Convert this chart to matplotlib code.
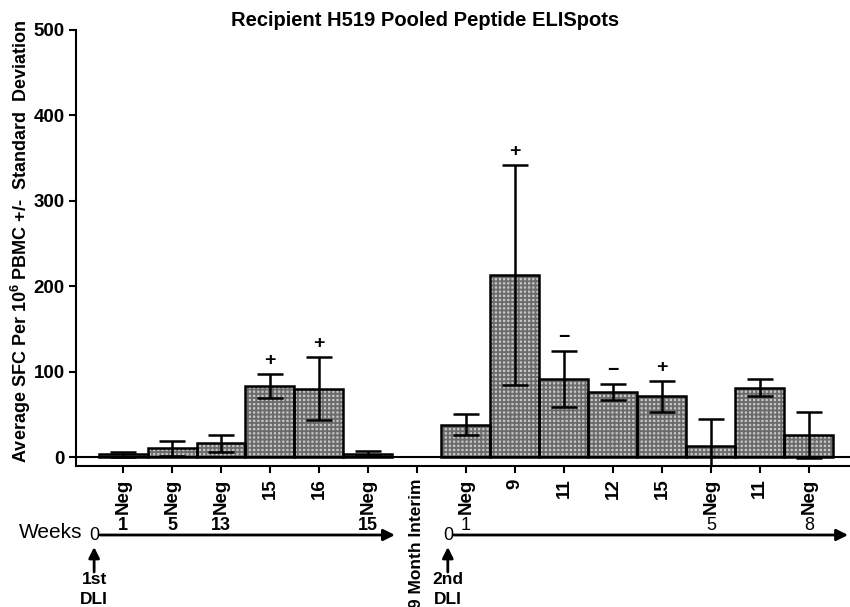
import matplotlib.pyplot as plt
import matplotlib.transforms as mtransforms
import numpy as np

plt.rcParams['font.family'] = ['Liberation Sans', 'DejaVu Sans']
plt.rcParams['mathtext.fontset'] = 'custom'
plt.rcParams['mathtext.rm'] = 'Liberation Sans:bold'
plt.rcParams['mathtext.bf'] = 'Liberation Sans:bold'
plt.rcParams['hatch.linewidth'] = 1.3

# pooled peptide ELISpot results in time order (the interim slot has no sample)
peptides = ["Neg", "Neg", "Neg", "15", "16", "Neg", "9 Month Interim",
            "Neg", "9", "11", "12", "15", "Neg", "11", "Neg"]
mean_sfc = [3, 10, 16, 83, 80, 4, np.nan, 38, 213, 91, 76, 71, 13, 81, 26]
sd_sfc = [3, 9, 10, 14, 37, 3, np.nan, 12, 129, 33, 9, 18, 31, 10, 27]
weeks = ["1", "5", "13", "", "", "15", "", "1", "", "", "", "", "5", "", "8"]
response = ["", "", "", "+", "+", "", "", "", "+", "\u2212", "\u2212", "+", "", "", ""]
first_dli_count = 6  # samples taken after the 1st DLI

x = np.arange(len(peptides))
vals = np.array(mean_sfc, dtype=float)
errs = np.array(sd_sfc, dtype=float)
has = ~np.isnan(vals)

fig = plt.figure(figsize=(8.5, 6.07), dpi=100)
ax = fig.add_axes([76 / 850, (607 - 466) / 607, 774 / 850, 436 / 607])

# checkered fill first, then the black outlines on top
ax.bar(x[has], vals[has], width=1.0, color='#c4c4c4', edgecolor='#6a6a6a',
       hatch='++++', linewidth=0)
ax.bar(x[has], vals[has], width=1.0, fill=False, edgecolor='black', linewidth=1.8)
ax.errorbar(x[has], vals[has], yerr=errs[has], fmt='none', ecolor='black',
            elinewidth=1.8, capsize=9.4, capthick=1.8)
ax.axhline(0, color='black', lw=1.5)

for i, sign in enumerate(response):
    if sign:
        ax.annotate(sign, (x[i], vals[i] + errs[i]), xytext=(0, 10),
                    textcoords='offset points', ha='center', va='center',
                    fontsize=14, fontweight='bold')

ax.set_xlim(-0.96, 14.84)
ax.set_ylim(-10.5, 500)
ax.set_yticks(np.arange(0, 501, 100))
ax.set_xticks(x, peptides, rotation=90)
for lbl in ax.get_xticklabels() + ax.get_yticklabels():
    lbl.set_fontweight('bold')
ax.tick_params(direction='out', length=5, width=1.5, labelsize=13.5)
ax.tick_params(axis='x', pad=4)
ax.tick_params(axis='y', pad=3)
# the interim label is long, keep it a touch smaller
ax.get_xticklabels()[peptides.index("9 Month Interim")].set_fontsize(12.5)
for side in ['top', 'right']:
    ax.spines[side].set_visible(False)
for side in ['left', 'bottom']:
    ax.spines[side].set_linewidth(1.5)

ax.set_ylabel(r'Average SFC Per 10$^{6}$ PBMC +/-  Standard  Deviation',
              fontsize=13, fontweight='bold')
ax.yaxis.set_label_coords(-0.055, 0.515)

fig.text(0.5, 1 - 20 / 607, 'Recipient H519 Pooled Peptide ELISpots',
         ha='center', va='center', fontsize=14.5, fontweight='bold')

# timeline below the axis: x in data units, y in figure fraction
trans = mtransforms.blended_transform_factory(ax.transData, fig.transFigure)
for i, wk in enumerate(weeks):
    if wk:
        ax.text(x[i], 1 - 525 / 607, wk, transform=trans, ha='center', va='center',
                fontsize=13, fontweight='bold' if i < first_dli_count else 'normal')

fig.text(82 / 850, 1 - 532 / 607, 'Weeks', ha='right', va='center', fontsize=15)
arrow_y = 1 - 535 / 607
for x0, x1, lbl in [(-0.59, 5.55, '1st\nDLI'), (6.63, 14.8, '2nd\nDLI')]:
    ax.text(x0, arrow_y, '0', transform=trans, ha='center', va='center', fontsize=13)
    ax.annotate('', xy=(x1, arrow_y), xytext=(x0 + 0.12, arrow_y),
                xycoords=trans, textcoords=trans, annotation_clip=False,
                arrowprops=dict(arrowstyle='-|>', lw=2, color='black',
                                mutation_scale=17, shrinkA=0, shrinkB=0))
    ax.annotate('', xy=(x0, 1 - 547 / 607), xytext=(x0, 1 - 572 / 607),
                xycoords=trans, textcoords=trans, annotation_clip=False,
                arrowprops=dict(arrowstyle='-|>', lw=2, color='black',
                                mutation_scale=16, shrinkA=0, shrinkB=0))
    top, bottom = lbl.split('\n')
    ax.text(x0, 1 - 580 / 607, top, transform=trans, ha='center', va='center',
            fontsize=12.5, fontweight='bold')
    ax.text(x0, 1 - 600 / 607, bottom, transform=trans, ha='center', va='center',
            fontsize=12.5, fontweight='bold')

fig.savefig('out.png', dpi=100)
